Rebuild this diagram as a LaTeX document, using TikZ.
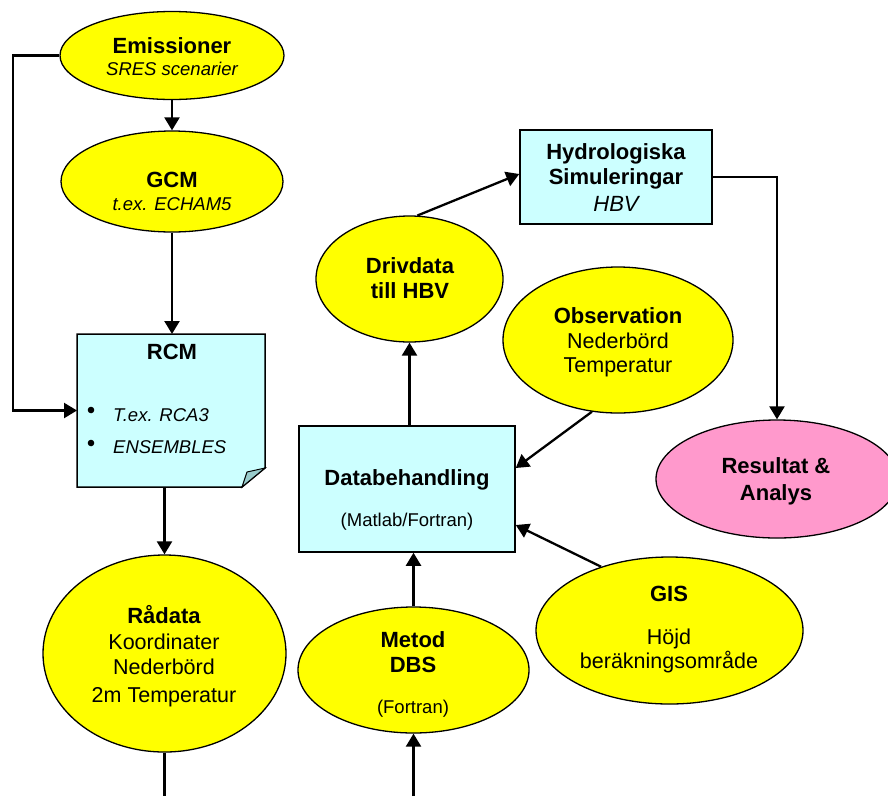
\documentclass[tikz,border=0pt]{standalone}
\usepackage{fontspec}
\setmainfont{Liberation Sans}
\usetikzlibrary{shapes.geometric,arrows.meta}
\definecolor{yel}{HTML}{FFFF00}
\definecolor{cyanbox}{HTML}{CCFFFF}
\definecolor{pinkell}{HTML}{FF99CC}
\definecolor{foldcol}{HTML}{99CCCC}
\tikzset{
  ell/.style={ellipse, draw, line width=1.3pt, fill=yel, inner sep=0pt},
  boxnode/.style={rectangle, draw, line width=1.5pt, fill=cyanbox, inner sep=0pt},
  conn/.style={line width=2.3pt},
  arr/.style={conn, -{Triangle[length=13pt,width=15pt]}},
  tb/.style={font=\fontsize{22}{26}\selectfont\bfseries, text height=15.8pt, text depth=0pt, inner sep=0pt, anchor=center},
  tr/.style={font=\fontsize{21.5}{25}\selectfont, text height=15.4pt, text depth=0pt, inner sep=0pt, anchor=center},
  ti/.style={font=\fontsize{18.5}{22}\selectfont\itshape, text height=13.2pt, text depth=0pt, inner sep=0pt, anchor=center},
  tib/.style={font=\fontsize{22}{26}\selectfont\itshape, text height=15.8pt, text depth=0pt, inner sep=0pt, anchor=center},
  ts/.style={font=\fontsize{18.5}{22}\selectfont, text height=13.2pt, text depth=0pt, inner sep=0pt, anchor=center},
}
\begin{document}
\begin{tikzpicture}[x=1pt,y=-1pt]
\useasboundingbox (0,0) rectangle (888,796);

% shapes
\node[ell, minimum width=224pt, minimum height=88pt] (emis) at (172,55.5) {};
\node[ell, minimum width=222pt, minimum height=101pt] (gcm) at (172,181.5) {};
\node[rectangle, inner sep=0pt, outer sep=0pt, minimum width=188pt, minimum height=153pt] (rcm) at (171,410.5) {};
\draw[line width=1.5pt, fill=cyanbox] (rcm.north west) -- (rcm.north east) -- ([yshift=19pt]rcm.south east)
  -- ([xshift=-23pt]rcm.south east) -- (rcm.south west) -- cycle;
\draw[line width=1pt, fill=foldcol] ([xshift=-23pt]rcm.south east) -- ([yshift=19pt]rcm.south east)
  -- ([xshift=-18pt,yshift=15pt]rcm.south east) -- cycle;
\node[ell, minimum width=243pt, minimum height=197pt] (rad) at (164.5,653.5) {};
\node[boxnode, minimum width=216pt, minimum height=126pt] (db) at (407,489) {};
\node[ell, minimum width=187pt, minimum height=126pt] (drv) at (409.5,279) {};
\node[boxnode, minimum width=192pt, minimum height=94pt] (hyd) at (616,177) {};
\node[ell, minimum width=230pt, minimum height=146pt] (obs) at (618,340) {};
\node[ell, fill=pinkell, minimum width=242pt, minimum height=118pt] (res) at (777,479) {};
\node[ell, minimum width=231pt, minimum height=126pt] (met) at (413.5,670) {};
\node[ell, minimum width=267pt, minimum height=147pt] (gis) at (669.5,630.5) {};

\coordinate (L) at (13,0);
\coordinate (b1) at (164.5,796);
\coordinate (b2) at (413.5,796);

% connectors
\draw[arr] (emis.west) -| (L |- rcm.west) -- (rcm.west);
\draw[arr] (emis.south) -- (gcm.north);
\draw[arr] (gcm.south) -- (gcm.south |- rcm.north);
\draw[arr] (rad.north |- rcm.south) -- (rad.north);
\draw[conn] (rad.south) -- (b1);
\draw[arr] (b2) -- (met.south);
\draw[arr] (met.north) -- (met.north |- db.south);
\draw[arr] (drv.south |- db.north) -- (drv.south);
\draw[arr] (drv.83) -- ([yshift=3pt]hyd.west);
\draw[arr] (hyd.east) -| (res.north);
\draw[arr] (obs.250) -- ([yshift=21pt]db.east);
\draw[arr] (gis.137) -- ([yshift=-36pt]db.east);

% texts
\node[tb] (emis1) at (172,46) {Emissioner};
\node[ti] (emis2) at (172,68.5) {SRES scenarier};
\node[tb] (gcm1) at (172,179.5) {GCM};
\node[ti] (gcm2) at (172,204) {t.ex. ECHAM5};
\node[tb] (rcm1) at (172,352) {RCM};
\fill (91,410) circle (3.3pt);
\fill (91,443) circle (3.3pt);
\node[ti, anchor=west] (rcm2) at (113,414.5) {T.ex. RCA3};
\node[ti, anchor=west] (rcm3) at (113,447) {ENSEMBLES};
\node[tb] (hyd1) at (616,151.5) {Hydrologiska};
\node[tb] (hyd2) at (616,176.5) {Simuleringar};
\node[tib] (hyd3) at (616,203.5) {HBV};
\node[tb] (drv1) at (410,265.5) {Drivdata};
\node[tb] (drv2) at (410,291) {till HBV};
\node[tb] (obs1) at (618,315.5) {Observation};
\node[tr] (obs2) at (618,340.5) {Nederbörd};
\node[tr] (obs3) at (618,364.5) {Temperatur};
\node[tb] (db1) at (407,478) {Databehandling};
\node[ts] (db2) at (407,520) {(Matlab/Fortran)};
\node[tb] (res1) at (776,465.5) {Resultat \&};
\node[tb] (res2) at (776,493) {Analys};
\node[tb] (rad1) at (164,615.5) {Rådata};
\node[tr] (rad2) at (164,641.5) {Koordinater};
\node[tr] (rad3) at (164,666.5) {Nederbörd};
\node[tr] (rad4) at (164,694.5) {2m Temperatur};
\node[tb] (met1) at (413,639.5) {Metod};
\node[tb] (met2) at (413,665) {DBS};
\node[ts] (met3) at (413,707) {(Fortran)};
\node[tb] (gis1) at (669,594) {GIS};
\node[tr] (gis2) at (669,636.5) {Höjd};
\node[tr] (gis3) at (669,660.5) {beräkningsområde};
\end{tikzpicture}
\end{document}
